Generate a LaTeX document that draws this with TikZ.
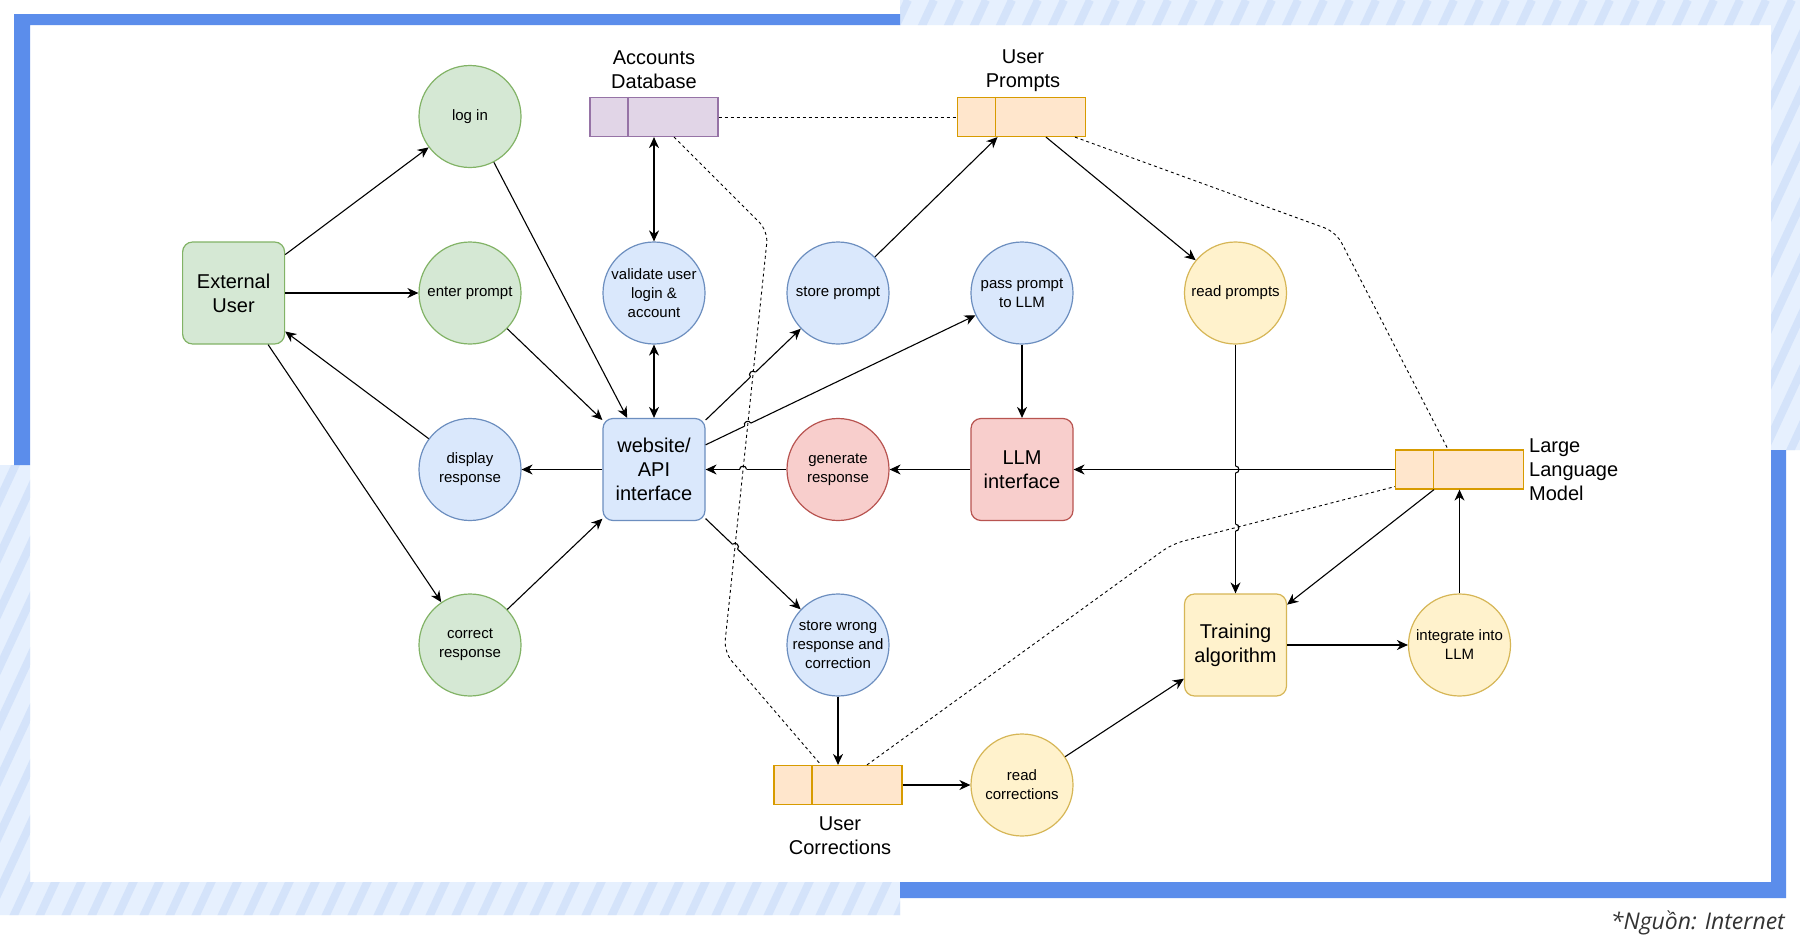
\documentclass[tikz,border=0pt]{standalone}
\usepackage{fontspec}
\setmainfont{Liberation Sans}
\newfontfamily\footfont{Open Sans}
\usetikzlibrary{arrows.meta,calc,intersections}

\definecolor{grF}{HTML}{D5E8D4}\definecolor{grD}{HTML}{82B366}
\definecolor{blF}{HTML}{DAE8FC}\definecolor{blD}{HTML}{6C8EBF}
\definecolor{rdF}{HTML}{F8CECC}\definecolor{rdD}{HTML}{B85450}
\definecolor{yeF}{HTML}{FFF2CC}\definecolor{yeD}{HTML}{D6B656}
\definecolor{orF}{HTML}{FFE6CC}\definecolor{orD}{HTML}{D79B00}
\definecolor{puF}{HTML}{E1D5E7}\definecolor{puD}{HTML}{9673A6}
\definecolor{frameblue}{HTML}{5B8DEB}
\definecolor{hatchbg}{HTML}{E6F0FE}
\definecolor{hatchln}{HTML}{D4E3FA}
\definecolor{foottext}{HTML}{333333}

\newcommand\jmp[5]{%
  \coordinate (#1a) at ($(#1)!3.5pt!(#2)$);
  \coordinate (#1b) at ($(#1)!3.5pt!(#3)$);
  \draw[white, line width=1.9pt] (#1a) -- (#1b);
  \draw[line width=1.1pt] (#1a) .. controls ($(#1a)!4.5pt!#4:(#1b)$) and ($(#1b)!4.5pt!#5:(#1a)$) .. (#1b);
}

\begin{document}
\begin{tikzpicture}[x=1pt,y=-1pt,
  >={Stealth[length=11pt,width=10pt,inset=3.5pt]},
  proc/.style={circle, draw, line width=1.2pt, minimum size=102pt, inner sep=-6pt, align=center, font=\fontsize{15pt}{19pt}\selectfont},
  gproc/.style={proc, fill=grF, draw=grD},
  bproc/.style={proc, fill=blF, draw=blD},
  rproc/.style={proc, fill=rdF, draw=rdD},
  yproc/.style={proc, fill=yeF, draw=yeD},
  box/.style={rectangle, rounded corners=10pt, draw, line width=1.2pt, minimum width=102pt, minimum height=102pt, inner sep=2pt, align=center, font=\fontsize{20pt}{24pt}\selectfont},
  store/.style={rectangle, draw, line width=1.2pt, minimum width=128pt, minimum height=39pt, inner sep=0pt},
  slabel/.style={align=center, inner sep=0pt, font=\fontsize{20pt}{24pt}\selectfont},
  conn/.style={line width=1.1pt, ->},
  conn2/.style={line width=1.1pt, <->},
  dashln/.style={line width=0.9pt, dash pattern=on 3pt off 3pt, rounded corners=12pt}
]
\useasboundingbox (0,0) rectangle (1800,945);
\fill[white] (0,0) rectangle (1800,945);

% hatched frame parts
\fill[hatchbg] (900,0) rectangle (1800,25) (1771,0) rectangle (1800,450)
               (0,882) rectangle (900,915) (0,465) rectangle (30,915);
\begin{scope}
  \clip (900,0) rectangle (1800,25) (1771,0) rectangle (1800,450)
        (0,882) rectangle (900,915) (0,465) rectangle (30,915);
  \foreach \k in {-20,...,72} \draw[hatchln, line width=8pt] (\k*26,945) -- ++(440,-945);
\end{scope}
% blue frame parts
\fill[frameblue] (14,14) rectangle (900,25) (14,14) rectangle (30,465)
                 (1771,450) rectangle (1786,898) (900,882) rectangle (1786,898);

% process nodes
\node[box, fill=grF, draw=grD] (EU) at (233.6,293) {External\\User};
\node[gproc] (login) at (470,116.5) {log in};
\node[gproc] (enter) at (470,293) {enter prompt};
\node[bproc] (disp) at (470,469.5) {display\\response};
\node[gproc] (corr) at (470,645) {correct\\response};
\node[bproc] (valid) at (654,293) {validate user\\login \&\\account};
\node[box, fill=blF, draw=blD] (web) at (654,469.5) {website/\\API\\interface};
\node[bproc] (storep) at (838,293) {store prompt};
\node[rproc] (gen) at (838,469.5) {generate\\response};
\node[bproc] (storew) at (838,645) {store wrong\\response and\\correction};
\node[bproc] (pass) at (1022,293) {pass prompt\\to LLM};
\node[box, fill=rdF, draw=rdD] (llmi) at (1022,469.5) {LLM\\interface};
\node[yproc] (readc) at (1022,785) {read\\corrections};
\node[yproc] (readp) at (1235.5,293) {read prompts};
\node[box, fill=yeF, draw=yeD] (train) at (1235.5,645) {Training\\algorithm};
\node[yproc] (integ) at (1459.5,645) {integrate into\\LLM};

% data stores
\node[store, fill=puF, draw=puD] (acc) at (654,117) {};
\draw[puD, line width=1.2pt] ([xshift=38.6pt]acc.north west) -- ([xshift=38.6pt]acc.south west);
\node[store, fill=orF, draw=orD] (up) at (1021.5,117) {};
\draw[orD, line width=1.2pt] ([xshift=38.6pt]up.north west) -- ([xshift=38.6pt]up.south west);
\node[store, fill=orF, draw=orD] (llm) at (1459.5,469.5) {};
\draw[orD, line width=1.2pt] ([xshift=38.6pt]llm.north west) -- ([xshift=38.6pt]llm.south west);
\node[store, fill=orF, draw=orD] (uc) at (838,785) {};
\draw[orD, line width=1.2pt] ([xshift=38.6pt]uc.north west) -- ([xshift=38.6pt]uc.south west);

\node[slabel] (accL) at (654,70) {Accounts\\Database};
\node[slabel] (upL) at (1023,71) {User\\Prompts};
\node[slabel] (ucL) at (840,836) {User\\Corrections};
\node[slabel, anchor=west, align=left] (llmL) at (1529,469.5) {Large\\Language\\Model};

\node[anchor=base east, inner sep=0pt, text=foottext, font=\footfont\itshape\fontsize{23pt}{26pt}\selectfont] (src) at (1785,929) {*Nguồn: Internet};

% dashed paths (for intersections)
\coordinate (b1) at (768,231);
\coordinate (b2) at (724,652);
\coordinate (c1) at (1336,232);
\coordinate (d1) at (1172,544);
\path[name path=dB] ([xshift=20pt]acc.south) -- (b1) -- (b2) -- ([xshift=-17pt]uc.north);
\path[name path=dD] ([xshift=29pt]uc.north) -- (d1) -- ([yshift=3pt]llm.south west);
\path[name path=eLL] (llm) -- (llmi);

% solid connectors
\draw[conn] (EU) -- (login);
\draw[conn] (EU) -- (enter);
\draw[conn] (disp) -- (EU);
\draw[conn] (EU) -- (corr);
\draw[conn] (login) -- (web);
\draw[conn] (enter) -- (web);
\draw[conn] (web) -- (disp);
\draw[conn] (corr) -- (web);
\draw[conn2] (acc) -- (valid);
\draw[conn2] (valid) -- (web);
\draw[conn, name path=eWS] (web) -- (storep);
\draw[conn, name path=eWP] (web) -- (pass);
\draw[conn, name path=eGW] (gen) -- (web);
\draw[conn] (llmi) -- (gen);
\draw[conn] (pass) -- (llmi);
\draw[conn] (storep) -- ([xshift=-24pt]up.south);
\draw[conn] ([xshift=24.5pt]up.south) -- (readp);
\draw[conn, name path=eRT] (readp) -- (train);
\draw[conn] ([xshift=-25.5pt]llm.south) -- (train);
\draw[conn] (integ) -- (llm);
\draw[conn] (train) -- (integ);
\draw[conn, name path=eWW] (web) -- (storew);
\draw[conn] (storew) -- (uc);
\draw[conn] (uc) -- (readc);
\draw[conn] (readc) -- (train);

% line jumps
\path[name intersections={of=eWS and dB, by=ja}];
\path[name intersections={of=eWP and dB, by=jb}];
\path[name intersections={of=eGW and dB, by=jc}];
\path[name intersections={of=eWW and dB, by=jd}];
\path[name intersections={of=eRT and eLL, by=je}];
\path[name intersections={of=eRT and dD, by=jf}];
\jmp{ja}{web}{storep}{90}{-90}
\jmp{jb}{web}{pass}{90}{-90}
\jmp{jc}{gen}{web}{-90}{90}
\jmp{jd}{web}{storew}{90}{-90}
\jmp{je}{readp}{train}{90}{-90}
\jmp{jf}{readp}{train}{90}{-90}

\draw[conn] (llm) -- (llmi);

% dashed connectors
\draw[dashln] (acc.east) -- (up.west);
\draw[dashln] ([xshift=20pt]acc.south) -- (b1) -- (b2) -- ([xshift=-17pt]uc.north);
\draw[dashln] ([xshift=53.5pt]up.south) -- (c1) -- ([xshift=-11.5pt]llm.north);
\draw[dashln] ([xshift=29pt]uc.north) -- (d1) -- ([yshift=3pt]llm.south west);
\end{tikzpicture}
\end{document}
